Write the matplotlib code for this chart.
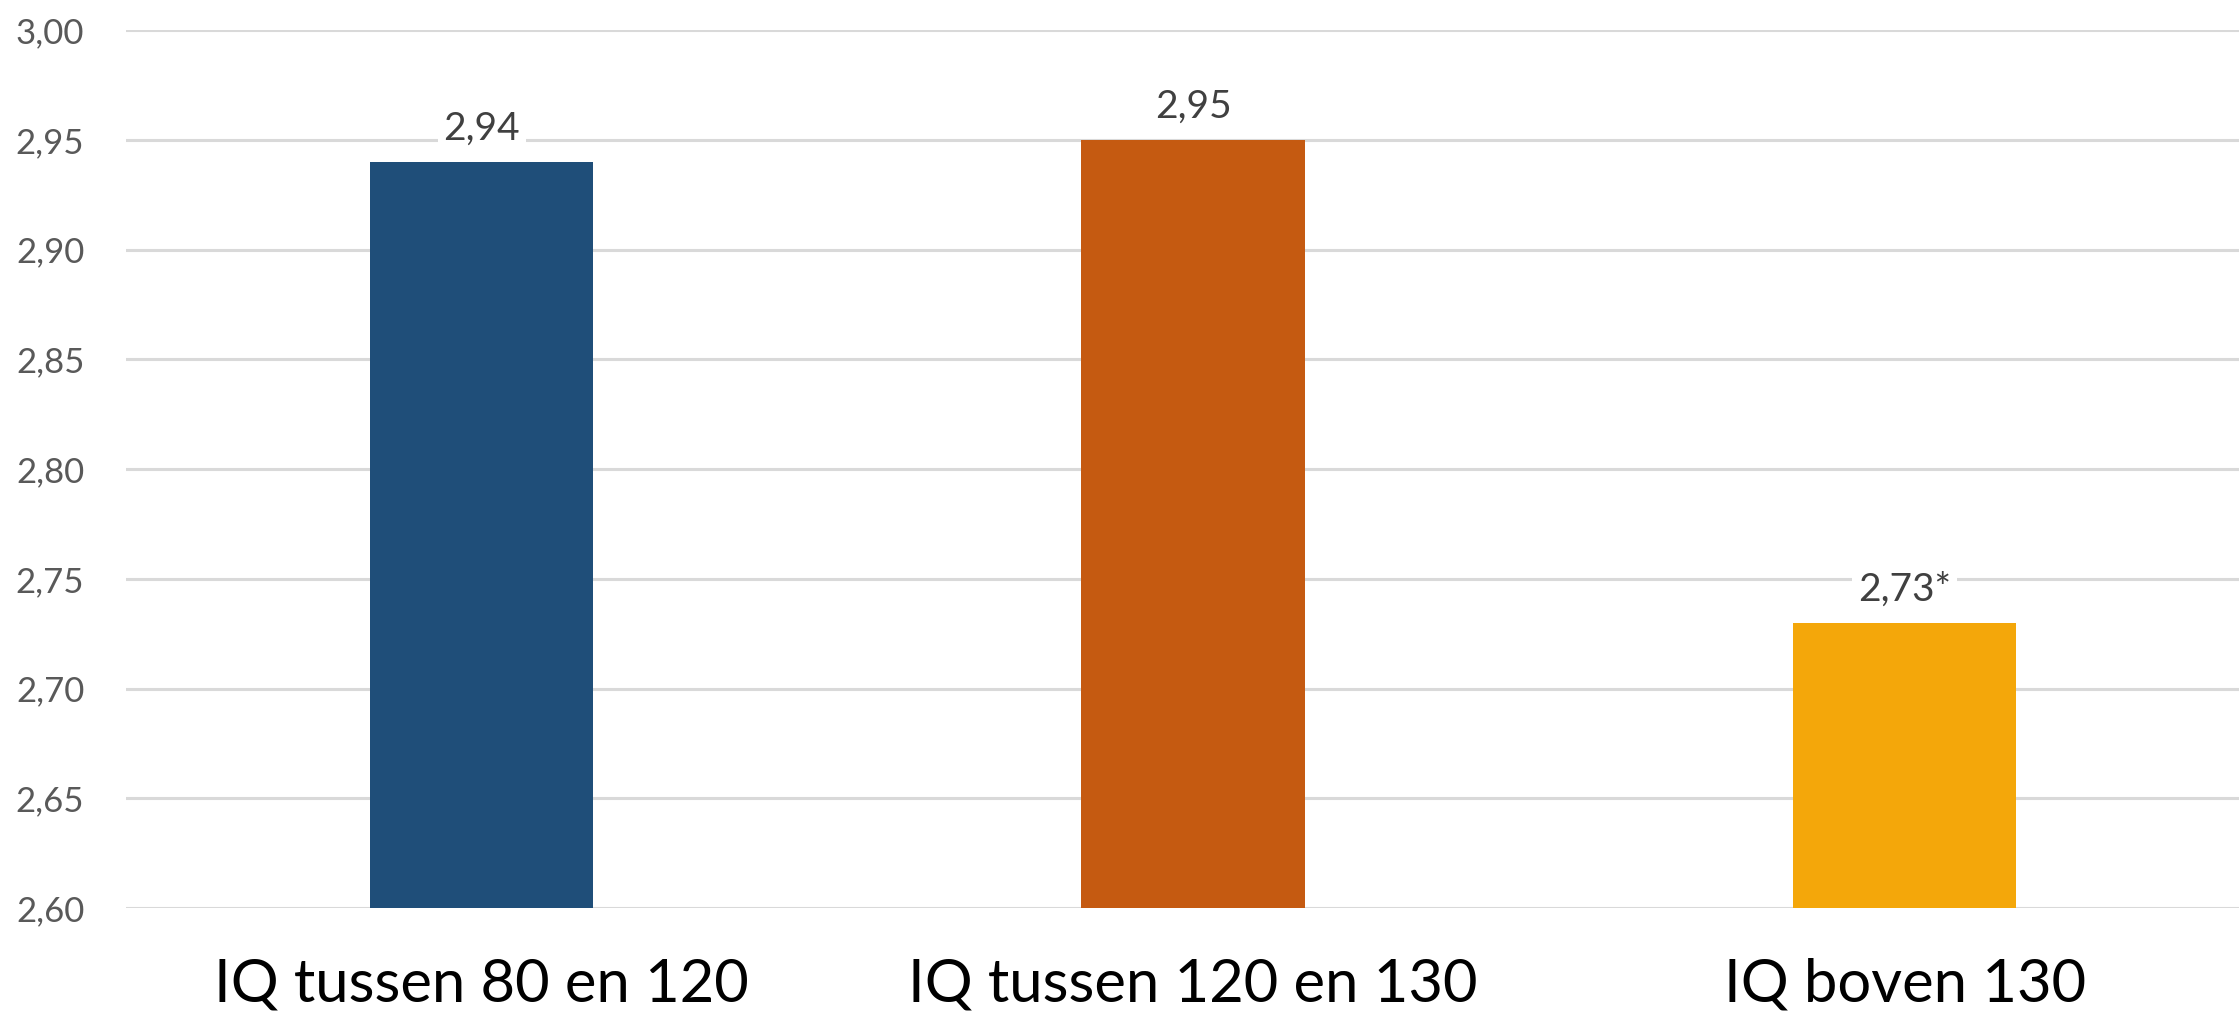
import matplotlib
matplotlib.use("Agg")
import matplotlib.pyplot as plt

categories = ["IQ tussen 80 en 120", "IQ tussen 120 en 130", "IQ boven 130"]
values = [2.94, 2.95, 2.73]
value_labels = ["2,94", "2,95", "2,73*"]
colors = ["#1F4E79", "#C55A11", "#F4A70A"]
yticks = [2.60, 2.65, 2.70, 2.75, 2.80, 2.85, 2.90, 2.95, 3.00]

plt.rcParams['font.family'] = ['Lato', 'DejaVu Sans']

fig = plt.figure(figsize=(22.39, 10.16), dpi=100)
ax = fig.add_axes([126 / 2239, 1 - 908 / 1016, 1 - 126 / 2239, (908 - 30) / 1016])

x = list(range(len(categories)))
ax.bar(x, values, width=0.314, color=colors, zorder=3)

for xi, v, lab in zip(x, values, value_labels):
    ax.annotate(lab, (xi, v), xytext=(0, 11), textcoords='offset points',
                ha='center', va='bottom', fontsize=28, color='#404040', zorder=4,
                bbox=dict(boxstyle='square,pad=0.15', fc='white', ec='none'))

ax.set_ylim(2.60, 3.00)
ax.set_xlim(-0.5, 2.47)
ax.set_yticks(yticks)
ax.set_yticklabels([f"{t:.2f}".replace('.', ',') for t in yticks])
ax.set_xticks(x)
ax.set_xticklabels(categories)

ax.tick_params(axis='y', length=0, pad=30, labelsize=25, labelcolor='#595959')
ax.tick_params(axis='x', length=0, pad=36, labelsize=43, labelcolor='black')
ax.grid(axis='y', color='#D9D9D9', linewidth=2.2, zorder=0)
ax.set_axisbelow(True)
for s in ax.spines.values():
    s.set_visible(False)

fig.savefig("out.png", dpi=100, facecolor='white')
